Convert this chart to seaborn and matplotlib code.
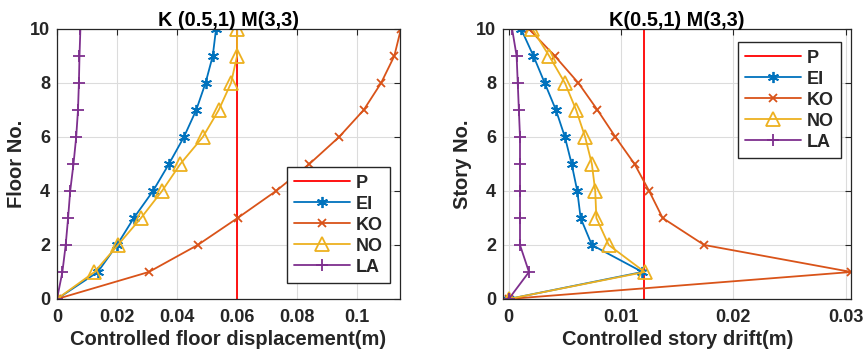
import matplotlib
matplotlib.use("Agg")
import matplotlib.pyplot as plt
import seaborn as sns
import pandas as pd
import numpy as np
from matplotlib.ticker import FuncFormatter

floors = list(range(0, 11))

# Left panel: controlled floor displacement (m)
disp_P = [0.06] * 11
disp_EI = [0, 0.0136, 0.0200, 0.0256, 0.0320, 0.0373, 0.0423, 0.0464, 0.0495, 0.0519, 0.0530]
disp_KO = [0, 0.0306, 0.0469, 0.0602, 0.0730, 0.0841, 0.0940, 0.1022, 0.1080, 0.1124, 0.1146]
disp_NO = [0, 0.0125, 0.0203, 0.0280, 0.0350, 0.0411, 0.0486, 0.0539, 0.0580, 0.0600, 0.0600]
disp_LA = [0, 0.0018, 0.0029, 0.0037, 0.0044, 0.0055, 0.0064, 0.0070, 0.0073, 0.0075, 0.0078]

# Right panel: controlled story drift (m)
drift_P = [0.012] * 11
drift_EI = [0, 0.0119, 0.0074, 0.0064, 0.0061, 0.0056, 0.0050, 0.0042, 0.0032, 0.0022, 0.0011]
drift_KO = [0, 0.0305, 0.0174, 0.0137, 0.0125, 0.0112, 0.0095, 0.0079, 0.0062, 0.0041, 0.0018]
drift_NO = [0, 0.0121, 0.0089, 0.0078, 0.0077, 0.0074, 0.0068, 0.0060, 0.0050, 0.0036, 0.0021]
drift_LA = [0, 0.0018, 0.0010, 0.0010, 0.0010, 0.0010, 0.0010, 0.0009, 0.0008, 0.0007, 0.0003]

labels = ["P", "EI", "KO", "NO", "LA"]
colors = {"P": "#FF0000", "EI": "#0072BD", "KO": "#D95319", "NO": "#EDB120", "LA": "#7E2F8E"}
markers = {"P": None, "EI": (6, 2, 0), "KO": "x", "NO": "^", "LA": "+"}
msizes = {"P": 0, "EI": 8, "KO": 6, "NO": 10, "LA": 8}

sns.set_style("white")
plt.rcParams['font.family'] = ['Liberation Sans', 'DejaVu Sans']
plt.rcParams['font.weight'] = 'bold'
plt.rcParams['axes.labelweight'] = 'bold'
plt.rcParams['axes.titleweight'] = 'bold'

fig = plt.figure(figsize=(8.66, 3.57), dpi=100)
ax1 = fig.add_axes([0.0658, 0.1625, 0.3961, 0.7563])
ax2 = fig.add_axes([0.581, 0.1625, 0.402, 0.7563])


def draw(ax, series, xlabel, ylabel, title, xlim, xticks, legend_loc, legend_anchor):
    for lab in labels:
        df = pd.DataFrame({"x": series[lab], "y": floors})
        c = colors[lab]
        kw = dict(color=c, linewidth=1.3, estimator=None, sort=False, errorbar=None,
                  label=lab, ax=ax)
        if markers[lab] is not None:
            kw.update(marker=markers[lab], markersize=msizes[lab],
                      markeredgecolor=c, markeredgewidth=1.3)
            if lab == "NO":
                kw.update(markerfacecolor="none")
            else:
                kw.update(markerfacecolor=c)
        sns.lineplot(data=df, x="x", y="y", **kw)
    ax.set_xlim(*xlim)
    ax.set_ylim(0, 10)
    ax.set_xticks(xticks)
    ax.set_yticks([0, 2, 4, 6, 8, 10])
    ax.xaxis.set_major_formatter(FuncFormatter(lambda v, p: "%g" % round(v, 4)))
    ax.grid(True, color="#dcdcdc", linewidth=0.8)
    ax.set_axisbelow(True)
    ax.tick_params(direction="in", top=True, right=True, length=4, width=0.8,
                   labelsize=13, colors="#262626")
    ax.tick_params(axis="x", pad=7)
    ax.tick_params(axis="y", pad=5)
    for lab_ in ax.get_xticklabels() + ax.get_yticklabels():
        lab_.set_fontweight("bold")
    for s in ax.spines.values():
        s.set_color("#262626")
        s.set_linewidth(0.9)
    ax.set_xlabel(xlabel, fontsize=14.5, fontweight="bold", color="#262626", labelpad=3)
    ax.set_ylabel(ylabel, fontsize=14.5, fontweight="bold", color="#262626", labelpad=3)
    ax.set_title(title, fontsize=14.3, fontweight="bold", color="black", pad=2)
    leg = ax.legend(loc=legend_loc, bbox_to_anchor=legend_anchor, fancybox=False,
                    framealpha=1, edgecolor="#262626", prop={"weight": "bold", "size": 13},
                    handlelength=3.1, handletextpad=0.3, borderpad=0.4, labelspacing=0.22,
                    borderaxespad=0)
    leg.get_frame().set_linewidth(1.0)


draw(ax1, {"P": disp_P, "EI": disp_EI, "KO": disp_KO, "NO": disp_NO, "LA": disp_LA},
     "Controlled floor displacement(m)", "Floor No.", "K (0.5,1) M(3,3)",
     (0, 0.1143), [0, 0.02, 0.04, 0.06, 0.08, 0.1], "lower right", (0.97, 0.06))
draw(ax2, {"P": drift_P, "EI": drift_EI, "KO": drift_KO, "NO": drift_NO, "LA": drift_LA},
     "Controlled story drift(m)", "Story No.", "K(0.5,1) M(3,3)",
     (-0.0005, 0.0305), [0, 0.01, 0.02, 0.03], "upper right", (0.97, 0.95))

fig.savefig("out.png", dpi=100)
